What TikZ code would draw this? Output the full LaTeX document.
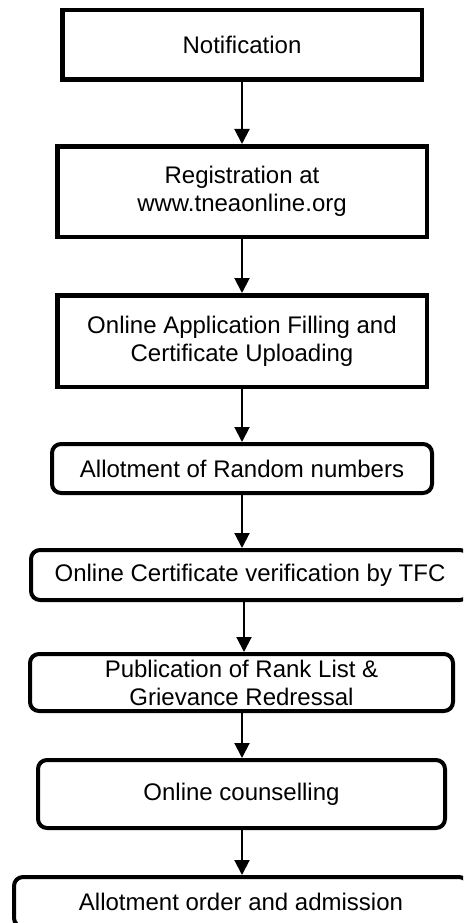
\documentclass[tikz,border=0pt]{standalone}
\usepackage{fontspec}
\setmainfont{Liberation Sans}
\usetikzlibrary{arrows.meta}
\tikzset{
  stage/.style={draw, line width=4.5pt, align=center, inner sep=0pt,
    font=\fontsize{24}{28}\selectfont},
  rstage/.style={stage, line width=4pt, rounded corners=9pt},
  flow/.style={line width=2pt, -{Triangle[length=15pt,width=15pt]}}
}
\begin{document}
\begin{tikzpicture}[x=1pt,y=-1pt]
      \clip (0,0) rectangle (463,923);
      \fill[white] (0,0) rectangle (463,923);
      \draw
        (242,45) node[stage, minimum width=359.5pt, minimum height=69.5pt] (0){Notification}
        (242,191.5) node[stage, minimum width=369.5pt, minimum height=90.5pt] (1){Registration at\\www.tneaonline.org}
        (242,341) node[stage, minimum width=369.5pt, minimum height=91.5pt] (2){Online Application Filling and\\Certificate Uploading}
        (242,468.5) node[rstage, minimum width=380pt, minimum height=49pt] (3){Allotment of Random numbers}
        (250,575) node[rstage, minimum width=438pt, minimum height=50pt] (4){Online Certificate verification by TFC}
        (241.5,682.5) node[rstage, minimum width=423pt, minimum height=57pt] (5){Publication of Rank List \&\\Grievance Redressal}
        (241.5,794) node[rstage, minimum width=407pt, minimum height=68pt] (6){Online counselling}
        (241,902) node[rstage, minimum width=454pt, minimum height=50pt] (7){Allotment order and admission};
      \coordinate (a) at (242,0);
      \coordinate (b) at (244,0);
      \begin{scope}[flow]
        \draw (a |- 0.south) to (a |- 1.north);
        \draw (a |- 1.south) to (a |- 2.north);
        \draw (a |- 2.south) to (a |- 3.north);
        \draw (a |- 3.south) to (a |- 4.north);
        \draw (b |- 4.south) to (b |- 5.north);
        \draw (a |- 5.south) to (a |- 6.north);
        \draw (a |- 6.south) to (a |- 7.north);
      \end{scope}
    \end{tikzpicture}
\end{document}
